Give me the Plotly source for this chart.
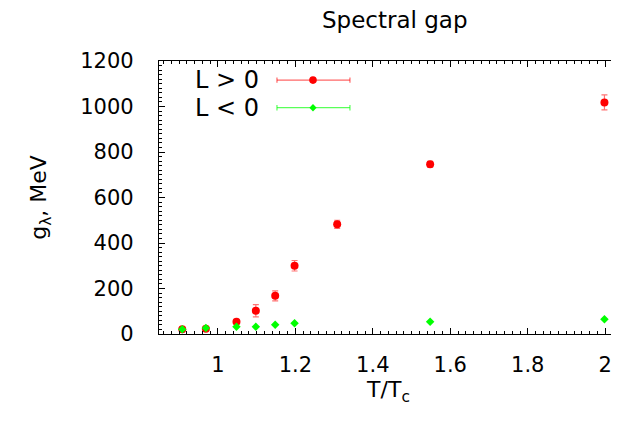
import plotly.graph_objects as go

# Data
t_red = [0.908, 0.969, 1.048, 1.098, 1.148, 1.198, 1.308, 1.548, 1.998]
g_red = [21, 23, 54, 102, 168, 300, 482, 746, 1018]
e_red = [6, 6, 8, 27, 22, 23, 18, 13, 33]

t_green = [0.908, 0.969, 1.048, 1.098, 1.148, 1.198, 1.548, 1.998]
g_green = [21, 26, 32, 32, 41, 47, 54, 65]
e_green = [2, 2, 2, 2, 2, 2, 2, 2]

x_ticks = [1, 1.2, 1.4, 1.6, 1.8, 2]
x_ticklabels = ["1", "1.2", "1.4", "1.6", "1.8", "2"]
y_ticks = [0, 200, 400, 600, 800, 1000, 1200]

FONT = "DejaVu Sans, Liberation Sans, Arial, sans-serif"

fig = go.Figure()
fig.add_trace(go.Scatter(
    x=t_red, y=g_red, mode="markers", name="L > 0", cliponaxis=False,
    marker=dict(symbol="circle", size=8, color="#ff0000"),
    error_y=dict(type="data", array=e_red, color="rgba(255,0,0,0.55)", thickness=1.2, width=3),
    showlegend=False,
))
fig.add_trace(go.Scatter(
    x=t_green, y=g_green, mode="markers", name="L < 0", cliponaxis=False,
    marker=dict(symbol="diamond", size=6.5, color="#00ff00"),
    error_y=dict(type="data", array=e_green, color="rgba(0,255,0,0.55)", thickness=1, width=2),
    showlegend=False,
))

# Custom legend (gnuplot style)
legend_items = [("L > 0", "rgba(255,0,0,0.6)", 0.930),
                ("L < 0", "rgba(0,255,0,0.65)", 0.829)]
x0, x1, xm = 0.257, 0.416, 0.3355
shapes = []
annotations = []
for label, lcol, yy in legend_items:
    shapes.append(dict(type="line", xref="paper", yref="paper", x0=x0, x1=x1, y0=yy, y1=yy,
                       line=dict(color=lcol, width=1.2)))
    for xc in (x0, x1):
        shapes.append(dict(type="line", xref="paper", yref="paper", x0=xc, x1=xc,
                           y0=yy - 0.01, y1=yy + 0.01, line=dict(color=lcol, width=1.2)))
    annotations.append(dict(text=label, xref="paper", yref="paper", x=0.222, y=yy,
                            xanchor="right", yanchor="middle", showarrow=False,
                            font=dict(size=24, color="black", family=FONT)))
# legend markers
r = 3.8 / 459
ry = 3.8 / 273
shapes.append(dict(type="circle", xref="paper", yref="paper", x0=xm - r, x1=xm + r,
                   y0=0.930 - ry, y1=0.930 + ry, fillcolor="#ff0000", line=dict(width=0)))
d = 3.6 / 459
dy = 3.8 / 273
shapes.append(dict(type="path", xref="paper", yref="paper",
                   path=f"M {xm-d} 0.829 L {xm} {0.829+dy} L {xm+d} 0.829 L {xm} {0.829-dy} Z",
                   fillcolor="#00ff00", line=dict(width=0)))

fig.update_layout(
    width=611, height=418,
    margin=dict(l=151, r=1, t=53, b=92),
    paper_bgcolor="white", plot_bgcolor="white",
    font=dict(family=FONT, size=21, color="black"),
    title=dict(text="Spectral gap", x=0.633, xanchor="center", y=0.99, yanchor="top",
               font=dict(size=23, family=FONT)),
    shapes=shapes, annotations=annotations,
    xaxis=dict(
        range=[0.848, 2.033], tickvals=x_ticks, ticktext=x_ticklabels,
        ticks="inside", ticklen=6, tickwidth=1, tickcolor="black",
        showline=True, linecolor="black", linewidth=1.2, mirror="allticks",
        showgrid=False, zeroline=False, ticklabelstandoff=12,
        minor=dict(dtick=0.02, tick0=0, ticks="inside", ticklen=3, tickcolor="black", showgrid=False),
        title=dict(text="T/T<sub>c</sub>", font=dict(size=22), standoff=0),
        tickfont=dict(size=21),
    ),
    yaxis=dict(
        range=[0, 1200], tickvals=y_ticks,
        ticks="inside", ticklen=6, tickwidth=1, tickcolor="black",
        showline=True, linecolor="black", linewidth=1.2, mirror="allticks",
        showgrid=False, zeroline=False, ticklabelstandoff=20,
        minor=dict(dtick=20, tick0=0, ticks="inside", ticklen=3, tickcolor="black", showgrid=False),
        title=dict(text="g<sub>λ</sub>, MeV", font=dict(size=22), standoff=27),
        tickfont=dict(size=21),
    ),
)

fig.write_html("out.html")
